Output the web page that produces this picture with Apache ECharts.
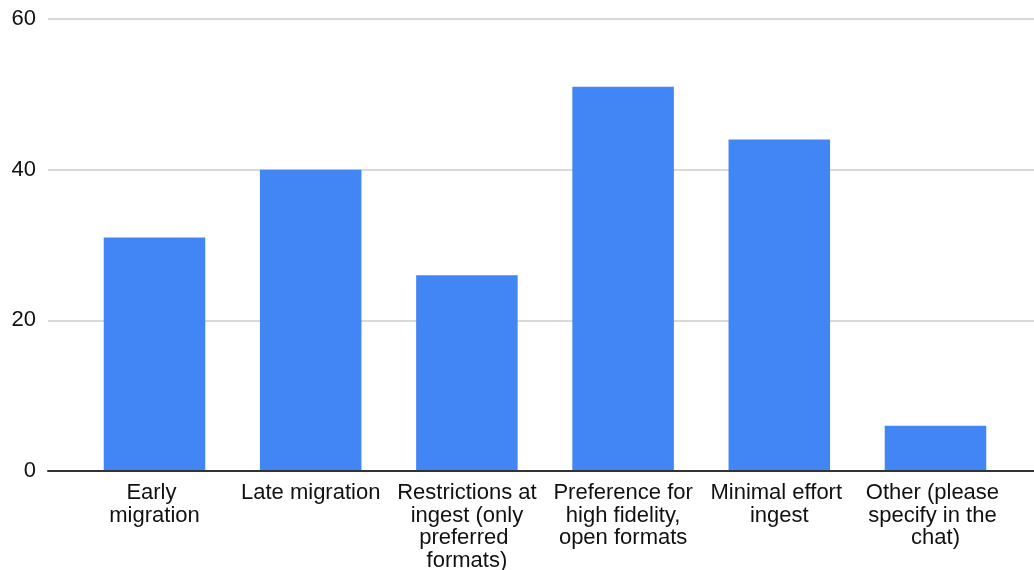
<!DOCTYPE html>
<html><head><meta charset="utf-8">
<script src="https://cdn.jsdelivr.net/npm/echarts@6/dist/echarts.min.js"></script>
<style>html,body{margin:0;padding:0;background:#fff}#c{width:1034px;height:570px}</style>
</head><body><div id="c"></div>
<script>
const categories = ["Early migration", "Late migration", "Restrictions at ingest (only preferred formats)", "Preference for high fidelity, open formats", "Minimal effort ingest", "Other (please specify in the chat)"];
const values = [31, 40, 26, 51, 44, 6];
const yTicks = [0, 20, 40, 60];

const chart = echarts.init(document.getElementById('c'));
const font = 'Liberation Sans, Arial, sans-serif';
chart.setOption({
  animation: false,
  grid: [
    {left: 48, right: 0, top: 19, bottom: 99, outerBoundsMode: 'none', containLabel: false},
    {left: 76.4, right: 20.4, top: 19, bottom: 99, outerBoundsMode: 'none', containLabel: false}
  ],
  xAxis: [
    {gridIndex: 0, type: 'value', min: 0, max: 1, show: true, z: 5,
     axisLine: {show: true, onZero: false, lineStyle: {color: '#333', width: 2}},
     axisTick: {show: false}, axisLabel: {show: false}, splitLine: {show: false}},
    {gridIndex: 1, type: 'category', data: categories,
     axisLine: {show: false}, axisTick: {show: false},
     axisLabel: {interval: 0, color: '#111', fontFamily: font, fontSize: 22, lineHeight: 22.5, margin: 11, width: 142, overflow: 'break', align: 'center'}}
  ],
  yAxis: [
    {gridIndex: 0, type: 'value', min: yTicks[0], max: yTicks[yTicks.length - 1], interval: 20,
     axisLine: {show: false}, axisTick: {show: false},
     axisLabel: {color: '#111', fontFamily: font, fontSize: 22, margin: 12},
     splitLine: {lineStyle: {color: '#cccccc', width: 1.5}}},
    {gridIndex: 1, type: 'value', min: yTicks[0], max: yTicks[yTicks.length - 1], show: false, splitLine: {show: false}}
  ],
  series: [{
    type: 'bar', xAxisIndex: 1, yAxisIndex: 1, data: values, silent: true,
    emphasis: {disabled: true},
    barCategoryGap: '35%', itemStyle: {color: '#4285F4', borderWidth: 0}
  }]
});
</script></body></html>
